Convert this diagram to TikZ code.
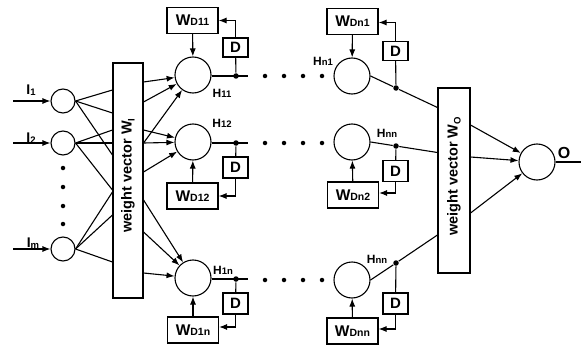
\documentclass[tikz,border=0pt]{standalone}
\usepackage{fontspec}
\setmainfont{Liberation Sans}
\usetikzlibrary{arrows.meta}

\newcommand{\wdlbl}[1]{{\fontsize{15.5}{15.5}\selectfont W}{\fontsize{10.5}{10.5}\selectfont #1}}
\newcommand{\hlbl}[1]{{\fontsize{12}{12}\selectfont H}{\fontsize{9.5}{9.5}\selectfont #1}}
\newcommand{\ilbl}[1]{{\fontsize{14}{14}\selectfont I}\raisebox{-1.5pt}{\fontsize{9.5}{9.5}\selectfont #1}}

\begin{document}
\begin{tikzpicture}[x=1pt,y=1pt,yscale=-1,line width=1.1pt,>={Latex[length=8pt,width=6pt]},
    neuron/.style={draw,circle,minimum size=36pt,inner sep=0pt},
    inneuron/.style={draw,circle,minimum size=24pt,inner sep=0pt},
    wbox/.style={draw,minimum width=51pt,minimum height=26pt,inner sep=0pt,font=\bfseries},
    dbox/.style={draw,minimum width=25pt,minimum height=21pt,inner sep=0pt,font=\bfseries\fontsize{15}{15}\selectfont},
    vecbox/.style={draw,inner sep=0pt},
    vectext/.style={rotate=90,inner sep=0pt,font=\bfseries\fontsize{14.5}{14.5}\selectfont},
    junc/.style={circle,fill,inner sep=0pt,minimum size=5.5pt},
    dotnode/.style={circle,fill,inner sep=0pt,minimum size=4.5pt},
    lbl/.style={inner sep=0pt,font=\bfseries}]
    \useasboundingbox (0,0) rectangle (581,345);

    % input neurons
    \node[inneuron] (i1) at (63,101) {};
    \node[inneuron] (i2) at (63,143) {};
    \node[inneuron] (im) at (63,249) {};
    \coordinate (in1) at (13,101);
    \coordinate (in2) at (13,143);
    \coordinate (inm) at (13,249);
    \draw[->] (in1) -- (i1);
    \draw[->] (in2) -- (i2);
    \draw[->] (inm) -- (im);
    \node[lbl] (li1) at (31,90) {\ilbl{1}};
    \node[lbl] (li2) at (31,138) {\ilbl{2}};
    \node[lbl] (lim) at (33,243) {\ilbl{m}};
    \foreach \y in {168,187,206,224}
        \node[dotnode] at (63,\y) {};

    % weight vector W_I
    \node[vecbox,minimum width=30pt,minimum height=235pt] (wi) at (128,180.5) {};
    \node[vectext] (twi) at ([yshift=-5pt]wi.center) {weight vector W\raisebox{-3pt}{\fontsize{9.5}{9.5}\selectfont I}};
    \foreach \y in {90,113,155}
        \draw (i1.east) -- (wi.west |- 0,\y);
    \foreach \y in {130,143,190}
        \draw (i2.east) -- (wi.west |- 0,\y);
    \foreach \y in {192,215,262}
        \draw (im.east) -- (wi.west |- 0,\y);

    % first hidden column
    \node[neuron] (h11) at (193,75) {};
    \node[neuron] (h12) at (193,142) {};
    \node[neuron] (h1n) at (193,278) {};
    \foreach \y in {82,102,143}
        \draw[->] (wi.east |- 0,\y) -- (h11);
    \foreach \y in {130,143,172}
        \draw[->] (wi.east |- 0,\y) -- (h12);
    \foreach \y in {200,232,273}
        \draw[->] (wi.east |- 0,\y) -- (h1n);

    \node[wbox] (wd11) at (192.5,20.5) {\wdlbl{D11}};
    \node[wbox] (wd12) at (192.5,196) {\wdlbl{D12}};
    \node[wbox] (wd1n) at (193,330) {\wdlbl{D1n}};
    \node[dbox,minimum height=19pt] (d11) at (235.5,47.5) {D};
    \node[dbox] (d12) at (235.5,167.5) {D};
    \node[dbox] (d1n) at (235.5,303.5) {D};
    \node[junc] (j11) at (236,76) {};
    \node[junc] (j12) at (236,143) {};
    \node[junc] (j1n) at (236,279) {};
    \coordinate (e11) at (248,76);
    \coordinate (e12) at (248,143);
    \coordinate (e1n) at (248,279);

    \draw (h11.east |- e11) -- (e11);
    \draw (h12.east |- e12) -- (e12);
    \draw (h1n.east |- e1n) -- (e1n);
    \draw (j11) -- (d11);
    \draw (j12) -- (d12);
    \draw (j1n) -- (d1n);
    \draw[->] (d11.north) |- (wd11.east);
    \draw[->] (d12.south) |- (wd12.east);
    \draw[->] (d1n.south) |- ([yshift=-3pt]wd1n.east);
    \draw[->] (wd11) -- (h11);
    \draw[->] (wd12) -- (h12);
    \draw[->] (wd1n) -- (h1n);
    \node[lbl] (lh11) at (222,93) {\hlbl{11}};
    \node[lbl] (lh12) at (222,123) {\hlbl{12}};
    \node[lbl] (lh1n) at (223,270) {\hlbl{1n}};

    % dots between the columns
    \foreach \y in {76,143,280}
        \foreach \x in {265,284,303,322}
            \node[dotnode] at (\x,\y) {};

    % last hidden column
    \node[neuron] (hn1) at (352,76) {};
    \node[neuron] (hn2) at (352,142) {};
    \node[neuron] (hnn) at (352,280) {};
    \node[wbox] (wdn1) at (352.5,21.5) {\wdlbl{Dn1}};
    \node[wbox] (wdn2) at (353,195) {\wdlbl{Dn2}};
    \node[wbox] (wdnn) at (352.5,331) {\wdlbl{Dnn}};
    \node[dbox,minimum height=19pt] (dn1) at (395.5,51) {D};
    \node[dbox] (dn2) at (395.5,171) {D};
    \node[dbox] (dnn) at (395.5,303.5) {D};
    \node[junc] (jn1) at (396,88) {};
    \node[junc] (jn2) at (396,146) {};
    \node[junc] (jnn) at (396,263) {};

    % weight vector W_O
    \node[vecbox,minimum width=32pt,minimum height=185pt] (wo) at (454,180.5) {};
    \node[vectext] (two) at ([yshift=-4pt]wo.center) {weight vector W\raisebox{-3pt}{\fontsize{9.5}{9.5}\selectfont O}};

    \draw (hn1.east) -- (jn1) -- (wo.west |- 0,107.5);
    \draw (hn2.east) -- (jn2) -- (wo.west |- 0,152.5);
    \draw (hnn.east) -- (jnn) -- (wo.west |- 0,235);
    \draw (jn1) -- (dn1);
    \draw (jn2) -- (dn2);
    \draw (jnn) -- (dnn);
    \draw[->] (dn1.north) |- ([yshift=1pt]wdn1.east);
    \draw[->] (dn2.south) |- ([yshift=-2pt]wdn2.east);
    \draw[->] (dnn.south) |- ([yshift=-2pt]wdnn.east);
    \draw[->] (wdn1) -- (hn1);
    \draw[->] (wdn2) -- (hn2);
    \draw[->] (wdnn) -- (hnn);
    \node[lbl] (lhn1) at (323,61) {\hlbl{n1}};
    \node[lbl] (lhn2) at (387,133) {\hlbl{nn}};
    \node[lbl] (lhnn) at (377,259) {\hlbl{nn}};

    % output neuron
    \node[neuron] (o) at (537,162) {};
    \foreach \y in {125,157,213}
        \draw[->] (wo.east |- 0,\y) -- (o);
    \coordinate (oend) at (581,162);
    \draw (o.east) -- (oend);
    \node[lbl,font=\bfseries\fontsize{16}{16}\selectfont] (lo) at (564,153) {O};
\end{tikzpicture}
\end{document}
